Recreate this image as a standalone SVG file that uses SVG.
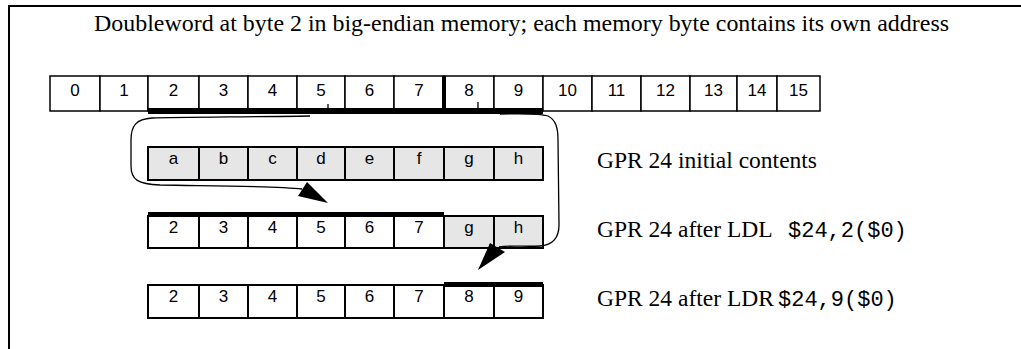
<svg xmlns="http://www.w3.org/2000/svg" width="1021" height="349" viewBox="0 0 1021 349">
<style>
.frame{stroke:#000;stroke-width:2;fill:none}
.mem{fill:#fff;stroke:#000;stroke-width:1.5}
.reg{fill:#fff;stroke:#000;stroke-width:2}
.regg{fill:#e6e6e6;stroke:#000;stroke-width:2}
.cell{font-family:"Liberation Sans",Arial,sans-serif;font-size:17px;text-anchor:middle;fill:#000}
.lbl{font-family:"Liberation Serif","Times New Roman",serif;font-size:23.5px;fill:#000}
.mono{font-family:"Liberation Mono","Courier New",monospace;font-size:22px;fill:#000}
.bar{fill:#000}
.conn{fill:none;stroke:#000;stroke-width:1.3}
.head{fill:#000}
</style>
<rect width="1021" height="349" fill="#fff"/>
<path class="frame" d="M9 349 V6 H1021"/>
<text class="lbl" x="94" y="31" textLength="855" lengthAdjust="spacingAndGlyphs">Doubleword at byte 2 in big-endian memory; each memory byte contains its own address</text>

<g id="memory">
<rect class="mem" x="50" y="76" width="50" height="35"/><text class="cell" x="75" y="96">0</text>
<rect class="mem" x="100" y="76" width="48" height="35"/><text class="cell" x="124" y="96">1</text>
<rect class="mem" x="148" y="76" width="51" height="35"/><text class="cell" x="173.5" y="96">2</text>
<rect class="mem" x="199" y="76" width="49" height="35"/><text class="cell" x="223.5" y="96">3</text>
<rect class="mem" x="248" y="76" width="49" height="35"/><text class="cell" x="272.5" y="96">4</text>
<rect class="mem" x="297" y="76" width="48" height="35"/><text class="cell" x="321" y="96">5</text>
<rect class="mem" x="345" y="76" width="49" height="35"/><text class="cell" x="369.5" y="96">6</text>
<rect class="mem" x="394" y="76" width="50" height="35"/><text class="cell" x="419" y="96">7</text>
<rect class="mem" x="444" y="76" width="50" height="35"/><text class="cell" x="469" y="96">8</text>
<rect class="mem" x="494" y="76" width="49" height="35"/><text class="cell" x="518.5" y="96">9</text>
<rect class="mem" x="543" y="76" width="49" height="35"/><text class="cell" x="567.5" y="96">10</text>
<rect class="mem" x="592" y="76" width="49" height="35"/><text class="cell" x="616.5" y="96">11</text>
<rect class="mem" x="641" y="76" width="49" height="35"/><text class="cell" x="665.5" y="96">12</text>
<rect class="mem" x="690" y="76" width="47" height="35"/><text class="cell" x="713.5" y="96">13</text>
<rect class="mem" x="737" y="76" width="40" height="35"/><text class="cell" x="757" y="96">14</text>
<rect class="mem" x="777" y="76" width="43" height="35"/><text class="cell" x="798.5" y="96">15</text>
<rect class="bar" x="148" y="108" width="395" height="6"/>
<rect class="bar" x="442" y="76" width="4" height="35"/>
<path class="conn" d="M328 111 V104 M478 108 V102"/>
</g>

<g id="gpr-initial">
<rect class="regg" x="148" y="147" width="51" height="33"/><text class="cell" x="173.5" y="164">a</text>
<rect class="regg" x="199" y="147" width="49" height="33"/><text class="cell" x="223.5" y="164">b</text>
<rect class="regg" x="248" y="147" width="49" height="33"/><text class="cell" x="272.5" y="164">c</text>
<rect class="regg" x="297" y="147" width="48" height="33"/><text class="cell" x="321" y="164">d</text>
<rect class="regg" x="345" y="147" width="49" height="33"/><text class="cell" x="369.5" y="164">e</text>
<rect class="regg" x="394" y="147" width="50" height="33"/><text class="cell" x="419" y="164">f</text>
<rect class="regg" x="444" y="147" width="50" height="33"/><text class="cell" x="469" y="164">g</text>
<rect class="regg" x="494" y="147" width="49" height="33"/><text class="cell" x="518.5" y="164">h</text>
<text class="lbl" x="597" y="168">GPR 24 initial contents</text>
</g>

<g id="gpr-ldl">
<rect class="reg" x="148" y="216" width="51" height="32"/><text class="cell" x="173.5" y="233">2</text>
<rect class="reg" x="199" y="216" width="49" height="32"/><text class="cell" x="223.5" y="233">3</text>
<rect class="reg" x="248" y="216" width="49" height="32"/><text class="cell" x="272.5" y="233">4</text>
<rect class="reg" x="297" y="216" width="48" height="32"/><text class="cell" x="321" y="233">5</text>
<rect class="reg" x="345" y="216" width="49" height="32"/><text class="cell" x="369.5" y="233">6</text>
<rect class="reg" x="394" y="216" width="50" height="32"/><text class="cell" x="419" y="233">7</text>
<rect class="regg" x="444" y="216" width="50" height="32"/><text class="cell" x="469" y="233">g</text>
<rect class="regg" x="494" y="216" width="49" height="32"/><text class="cell" x="518.5" y="233">h</text>
<rect class="bar" x="148" y="212" width="296" height="5"/>
<text class="lbl" x="597" y="237">GPR 24 after LDL</text>
<text class="mono" x="788" y="237">$24,2($0)</text>
</g>

<g id="gpr-ldr">
<rect class="reg" x="148" y="285" width="51" height="33"/><text class="cell" x="173.5" y="302">2</text>
<rect class="reg" x="199" y="285" width="49" height="33"/><text class="cell" x="223.5" y="302">3</text>
<rect class="reg" x="248" y="285" width="49" height="33"/><text class="cell" x="272.5" y="302">4</text>
<rect class="reg" x="297" y="285" width="48" height="33"/><text class="cell" x="321" y="302">5</text>
<rect class="reg" x="345" y="285" width="49" height="33"/><text class="cell" x="369.5" y="302">6</text>
<rect class="reg" x="394" y="285" width="50" height="33"/><text class="cell" x="419" y="302">7</text>
<rect class="reg" x="444" y="285" width="50" height="33"/><text class="cell" x="469" y="302">8</text>
<rect class="reg" x="494" y="285" width="49" height="33"/><text class="cell" x="518.5" y="302">9</text>
<rect class="bar" x="444" y="282" width="99" height="5"/>
<text class="lbl" x="597" y="306">GPR 24 after LDR</text>
<text class="mono" x="778" y="306">$24,9($0)</text>
</g>

<g id="connectors">
<path class="conn" d="M310 116 C250 117 180 117 152 118 C136 119 131 126 131 140 L131 166 C131 180 138 184 160 185 C220 186 275 186 302 189"/>
<polygon class="head" points="307,182 298,196 328,203"/>
<path class="conn" d="M500 114 C520 114 538 113 548 116 C556 120 558 128 558 140 L559 225 C559 238 553 245 540 246 C525 247 512 245 499 247"/>
<polygon class="head" points="490,243 505,252 478,270"/>
</g>
</svg>
